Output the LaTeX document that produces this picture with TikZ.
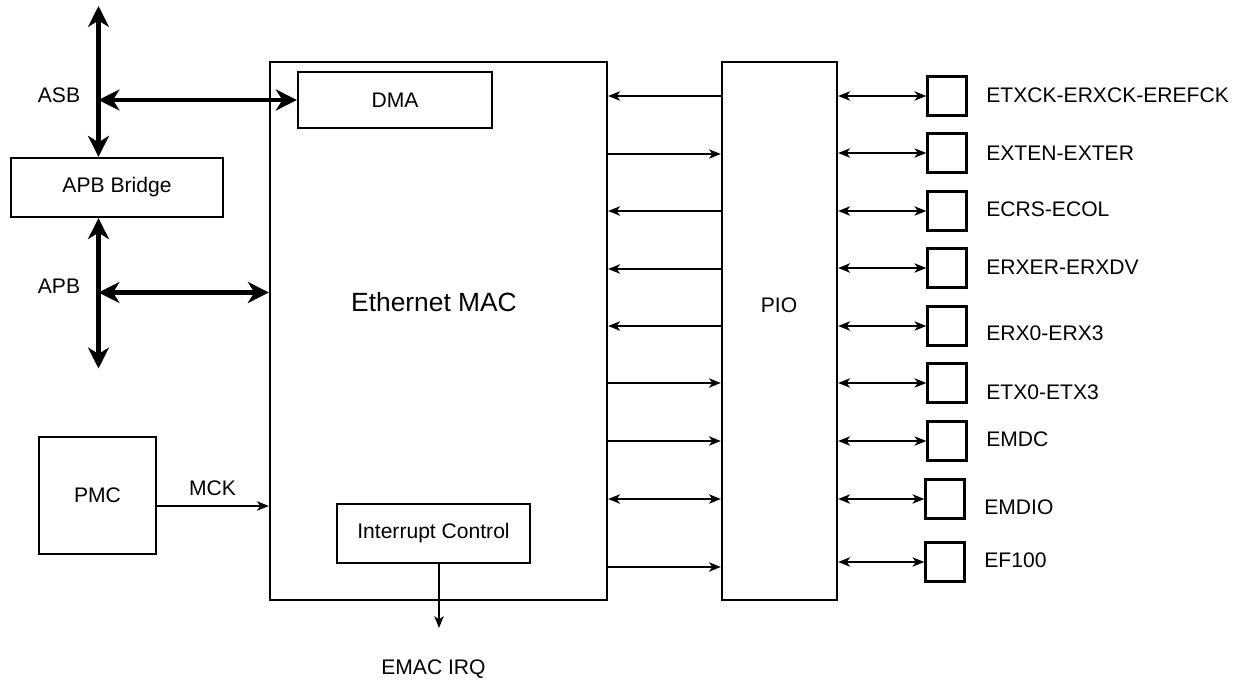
\documentclass[tikz,border=0pt]{standalone}
\usepackage{fontspec}
\setmainfont{Liberation Sans}
\usetikzlibrary{arrows.meta}

\begin{document}
\begin{tikzpicture}[>={Stealth[length=2.4mm,width=1.9mm,inset=0.7mm]},scale=1.0,
    blk/.style={draw,line width=1.3pt,inner sep=0pt,font=\fontsize{12}{14}\selectfont},
    padbox/.style={draw,line width=1.3pt,minimum size=0.78cm,inner sep=0pt},
    sig/.style={line width=0.7pt},
    bus/.style={line width=2.5pt,{Stealth[length=4.2mm,width=4.2mm,inset=1.3mm]}-{Stealth[length=4.2mm,width=4.2mm,inset=1.3mm]}},
    lbl/.style={font=\fontsize{12}{14}\selectfont,inner sep=0pt}]
    \useasboundingbox (0,0) rectangle (24.82,-13.66);
    \node[blk,minimum width=6.74cm,minimum height=10.76cm] (mac) at (8.77,-6.62) {};
    \node[font=\fontsize{15}{18}\selectfont,inner sep=0pt] (macname) at (8.68,-6.04) {Ethernet MAC};
    \node[blk,minimum width=3.88cm,minimum height=1.12cm] (dma) at (7.9,-2.0) {DMA};
    \node[blk,minimum width=3.86cm,minimum height=1.18cm] (irq) at (8.67,-10.67) {Interrupt Control};
    \node[blk,minimum width=4.24cm,minimum height=1.18cm] (bridge) at (2.34,-3.75) {APB Bridge};
    \node[blk,minimum width=2.34cm,minimum height=2.34cm] (pmc) at (1.95,-9.91) {PMC};
    \node[blk,minimum width=2.3cm,minimum height=10.76cm] (pio) at (15.59,-6.62) {};
    \node[lbl] (pioname) at (15.58,-6.1) {PIO};
    \node[lbl] (asb) at (1.18,-1.9) {ASB};
    \node[lbl] (apb) at (1.18,-5.72) {APB};
    \node[lbl] (mck) at (4.25,-9.77) {MCK};
    \node[lbl] (irqname) at (8.67,-13.38) {EMAC IRQ};
    \coordinate (asbtop) at (1.97,-0.12);
    \coordinate (asbjoin) at (1.97,-2.0);
    \coordinate (apbjoin) at (1.97,-5.85);
    \coordinate (apbbot) at (1.97,-7.37);
    \coordinate (irqout) at (8.78,-12.56);
    \draw[bus] (asbtop) -- (asbtop |- bridge.north);
    \draw[bus] (apbbot) -- (apbbot |- bridge.south);
    \draw[bus] (asbjoin) -- (dma.west);
    \draw[bus] (apbjoin) -- (apbjoin -| mac.west);
    \draw[sig,->] ([yshift=-0.21cm]pmc.east) -- ([yshift=-0.21cm]pmc.east -| mac.west);
    \draw[sig,->] (irqout |- irq.south) -- (irqout);
    \foreach \y/\tip in {-1.92/<-,-3.08/->,-4.22/<-,-5.38/<-,-6.52/<-,-7.66/->,-8.82/->,-9.98/<->,-11.34/->}
      \draw[sig,\tip] (mac.east |- 0,\y) -- (pio.west |- 0,\y);
    \foreach \i/\x/\y/\lx/\ly/\txt in {1/18.94/-1.92/19.72/-1.9/ETXCK-ERXCK-EREFCK,
        2/18.94/-3.06/19.72/-3.06/EXTEN-EXTER,3/18.94/-4.22/19.72/-4.18/ECRS-ECOL,
        4/18.94/-5.36/19.72/-5.34/ERXER-ERXDV,5/18.94/-6.52/19.72/-6.66/ERX0-ERX3,
        6/18.94/-7.66/19.72/-7.84/ETX0-ETX3,7/18.94/-8.82/19.72/-8.78/EMDC,
        8/18.9/-9.98/19.68/-10.14/EMDIO,9/18.9/-11.24/19.68/-11.2/EF100}{
      \node[padbox] (pad\i) at (\x,\y) {};
      \node[lbl,anchor=west] (padname\i) at (\lx,\ly) {\txt};
      \draw[sig,<->] (pio.east |- pad\i) -- (pad\i);
    }
  \end{tikzpicture}
\end{document}
